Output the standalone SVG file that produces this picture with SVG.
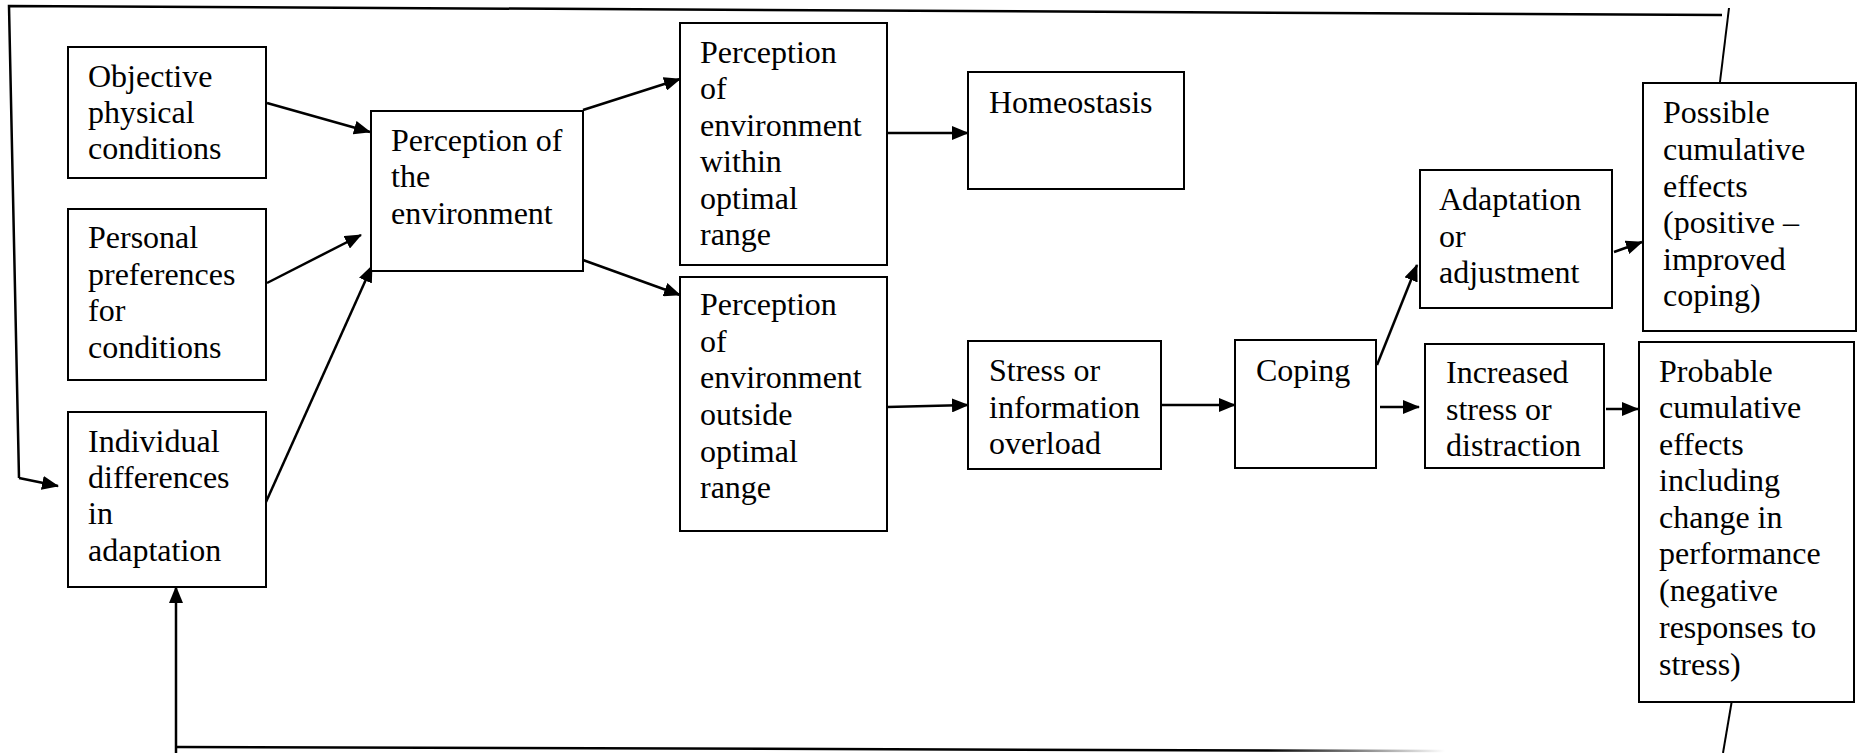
<svg xmlns="http://www.w3.org/2000/svg" width="1860" height="753" viewBox="0 0 1860 753">
<style>
.box{fill:#fff;stroke:#000;stroke-width:2}
.t{font-family:"Liberation Serif","Times New Roman",serif;font-size:32px;fill:#000}
.c{fill:none;stroke:#000;stroke-width:2.5}
.thin{fill:none;stroke:#000;stroke-width:2}
</style>
<defs>
<marker id="ah" markerUnits="userSpaceOnUse" markerWidth="18" markerHeight="14" refX="16" refY="7" orient="auto">
<path d="M0,0 L17,7 L0,14 Z" fill="#000"/>
</marker>
<linearGradient id="fade" gradientUnits="userSpaceOnUse" x1="176" y1="0" x2="1445" y2="0">
<stop offset="0" stop-color="#000"/>
<stop offset="0.86" stop-color="#000"/>
<stop offset="1" stop-color="#fff"/>
</linearGradient>
</defs>

<g id="connectors">
<polyline class="c" points="1722,15 9,6 19,478" />
<line class="c" x1="19" y1="478" x2="58" y2="486" marker-end="url(#ah)"/>
<line class="thin" x1="1729" y1="8" x2="1719" y2="90"/>
<line class="thin" x1="1733" y1="694" x2="1723" y2="753"/>
<line x1="176" y1="747" x2="1445" y2="751" stroke="url(#fade)" stroke-width="2.5"/>
<line class="c" x1="176" y1="753" x2="176" y2="587" marker-end="url(#ah)"/>
<line class="c" x1="267" y1="103" x2="370" y2="132" marker-end="url(#ah)"/>
<line class="c" x1="267" y1="283" x2="361" y2="235" marker-end="url(#ah)"/>
<line class="c" x1="266" y1="502" x2="372" y2="266" marker-end="url(#ah)"/>
<line class="c" x1="583" y1="110" x2="680" y2="79" marker-end="url(#ah)"/>
<line class="c" x1="583" y1="260" x2="680" y2="295" marker-end="url(#ah)"/>
<line class="c" x1="887" y1="133" x2="968" y2="133" marker-end="url(#ah)"/>
<line class="c" x1="887" y1="407" x2="968" y2="405" marker-end="url(#ah)"/>
<line class="c" x1="1161" y1="405" x2="1235" y2="405" marker-end="url(#ah)"/>
<line class="c" x1="1377" y1="365" x2="1417" y2="265" marker-end="url(#ah)"/>
<line class="c" x1="1380" y1="407" x2="1419" y2="407" marker-end="url(#ah)"/>
<line class="c" x1="1614" y1="252" x2="1642" y2="242" marker-end="url(#ah)"/>
<line class="c" x1="1606" y1="409" x2="1638" y2="409" marker-end="url(#ah)"/>
</g>

<g id="objective">
<rect class="box" x="68" y="47" width="198" height="131"/>
<text class="t" x="88" y="87">Objective</text>
<text class="t" x="88" y="123">physical</text>
<text class="t" x="88" y="159">conditions</text>
</g>
<g id="preferences">
<rect class="box" x="68" y="209" width="198" height="171"/>
<text class="t" x="88" y="248">Personal</text>
<text class="t" x="88" y="285">preferences</text>
<text class="t" x="88" y="321">for</text>
<text class="t" x="88" y="358">conditions</text>
</g>
<g id="individual">
<rect class="box" x="68" y="412" width="198" height="175"/>
<text class="t" x="88" y="452">Individual</text>
<text class="t" x="88" y="488">differences</text>
<text class="t" x="88" y="524">in</text>
<text class="t" x="88" y="561">adaptation</text>
</g>
<g id="perception">
<rect class="box" x="371" y="111" width="212" height="160"/>
<text class="t" x="391" y="151">Perception of</text>
<text class="t" x="391" y="187">the</text>
<text class="t" x="391" y="224">environment</text>
</g>
<g id="within">
<rect class="box" x="680" y="23" width="207" height="242"/>
<text class="t" x="700" y="63">Perception</text>
<text class="t" x="700" y="99">of</text>
<text class="t" x="700" y="136">environment</text>
<text class="t" x="700" y="172">within</text>
<text class="t" x="700" y="209">optimal</text>
<text class="t" x="700" y="245">range</text>
</g>
<g id="outside">
<rect class="box" x="680" y="277" width="207" height="254"/>
<text class="t" x="700" y="315">Perception</text>
<text class="t" x="700" y="352">of</text>
<text class="t" x="700" y="388">environment</text>
<text class="t" x="700" y="425">outside</text>
<text class="t" x="700" y="462">optimal</text>
<text class="t" x="700" y="498">range</text>
</g>
<g id="homeostasis">
<rect class="box" x="968" y="72" width="216" height="117"/>
<text class="t" x="989" y="113">Homeostasis</text>
</g>
<g id="stress">
<rect class="box" x="968" y="341" width="193" height="128"/>
<text class="t" x="989" y="381">Stress or</text>
<text class="t" x="989" y="418">information</text>
<text class="t" x="989" y="454">overload</text>
</g>
<g id="coping">
<rect class="box" x="1235" y="340" width="141" height="128"/>
<text class="t" x="1256" y="381">Coping</text>
</g>
<g id="adaptation">
<rect class="box" x="1420" y="170" width="192" height="138"/>
<text class="t" x="1439" y="210">Adaptation</text>
<text class="t" x="1439" y="247">or</text>
<text class="t" x="1439" y="283">adjustment</text>
</g>
<g id="increased">
<rect class="box" x="1425" y="344" width="179" height="124"/>
<text class="t" x="1446" y="383">Increased</text>
<text class="t" x="1446" y="420">stress or</text>
<text class="t" x="1446" y="456">distraction</text>
</g>
<g id="possible">
<rect class="box" x="1643" y="83" width="213" height="248"/>
<text class="t" x="1663" y="123">Possible</text>
<text class="t" x="1663" y="160">cumulative</text>
<text class="t" x="1663" y="197">effects</text>
<text class="t" x="1663" y="233">(positive –</text>
<text class="t" x="1663" y="270">improved</text>
<text class="t" x="1663" y="306">coping)</text>
</g>
<g id="probable">
<rect class="box" x="1639" y="342" width="215" height="360"/>
<text class="t" x="1659" y="382">Probable</text>
<text class="t" x="1659" y="418">cumulative</text>
<text class="t" x="1659" y="455">effects</text>
<text class="t" x="1659" y="491">including</text>
<text class="t" x="1659" y="528">change in</text>
<text class="t" x="1659" y="564">performance</text>
<text class="t" x="1659" y="601">(negative</text>
<text class="t" x="1659" y="638">responses to</text>
<text class="t" x="1659" y="675">stress)</text>
</g>
</svg>
